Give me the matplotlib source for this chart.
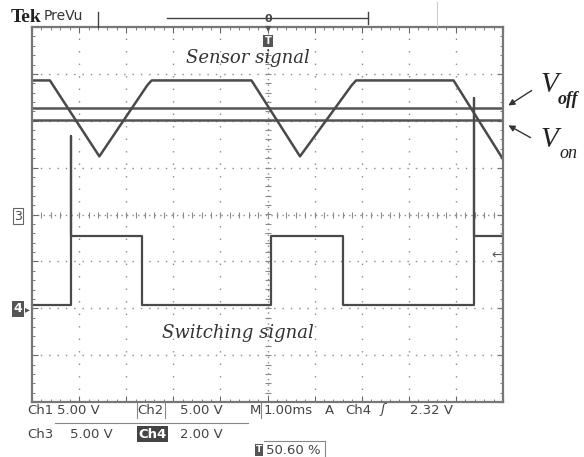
import numpy as np
import matplotlib
matplotlib.use("Agg")
import matplotlib.pyplot as plt
from matplotlib.ticker import MultipleLocator

# data, in scope divisions (x: 0..10, y: -4..4)
sensor_t = [0, 0.38, 1.43, 2.45, 2.54, 4.66, 5.69, 6.79, 6.88, 8.95, 10]
sensor_v = [2.86, 2.86, 1.24, 2.76, 2.86, 2.86, 1.24, 2.76, 2.86, 2.86, 1.18]
v_off = 2.27
v_on = 2.01
switch_t = [0, 0.82, 0.82, 0.82, 2.33, 2.33, 5.07, 5.07, 6.61, 6.61, 9.39, 9.39, 9.39, 10]
switch_v = [-1.94, -1.94, 1.67, -0.46, -0.46, -1.94, -1.94, -0.46, -0.46, -1.94, -1.94, 2.49, -0.46, -0.46]

W, H = 584, 457
fig = plt.figure(figsize=(W / 100, H / 100), dpi=100)
ax = fig.add_axes([32 / W, (H - 402) / H, 471 / W, 375 / H])


def fp(x, y):
    return x / W, 1 - y / H


trace = '#4a4a4a'
grid_c = '#8a8a8a'

ax.set_xlim(0, 10)
ax.set_ylim(-4, 4)
ax.xaxis.set_major_locator(MultipleLocator(1))
ax.yaxis.set_major_locator(MultipleLocator(1))
ax.xaxis.set_minor_locator(MultipleLocator(0.2))
ax.yaxis.set_minor_locator(MultipleLocator(0.2))
ax.tick_params(which='both', direction='in', top=True, right=True,
               labelbottom=False, labelleft=False, color='#666666')
ax.tick_params(which='major', length=4)
ax.tick_params(which='minor', length=2.5)
for s in ax.spines.values():
    s.set_color('#777777')
    s.set_linewidth(1.6)

# graticule
for k in range(1, 10):
    if k != 5:
        ax.axvline(k, color=grid_c, lw=1, ls=(0, (1, 8)))
for k in range(-3, 4):
    if k != 0:
        ax.axhline(k, color=grid_c, lw=1, ls=(0, (1, 5)))
ax.axvline(5, color=grid_c, lw=1, ls=(0, (1, 3)))
ax.axhline(0, color=grid_c, lw=1, ls=(0, (1, 3)))
ax.plot(np.arange(0.2, 10, 0.2), np.zeros(49), ls='none', marker='|',
        ms=4, color=grid_c, mew=0.8)
ax.plot(np.full(39, 5.0), np.arange(-3.8, 4, 0.2), ls='none', marker='_',
        ms=4, color=grid_c, mew=0.8)

# traces
ax.axhline(v_off, color='#555555', lw=1.8)
ax.axhline(v_on, color='#555555', lw=1.8)
ax.plot(sensor_t, sensor_v, color=trace, lw=1.8)
ax.plot(switch_t, switch_v, color=trace, lw=1.6)

serif = 'DejaVu Serif'
fig.text(*fp(248, 58), 'Sensor signal', fontsize=13, family=serif,
         style='italic', ha='center', va='center', color='#333333')
fig.text(*fp(238, 333), 'Switching signal', fontsize=13, family=serif,
         style='italic', ha='center', va='center', color='#333333')

# V_off / V_on labels
fig.text(*fp(540, 92), 'V', fontsize=21, family='Liberation Serif',
         style='italic', ha='left', va='baseline', color='#222222')
fig.text(*fp(558, 104), 'off', fontsize=13, family='Liberation Serif',
         style='italic', weight='bold', ha='left', va='baseline', color='#222222')
fig.text(*fp(540, 147), 'V', fontsize=21, family='Liberation Serif',
         style='italic', ha='left', va='baseline', color='#222222')
fig.text(*fp(559, 158), 'on', fontsize=13, family='Liberation Serif',
         style='italic', ha='left', va='baseline', color='#222222')
fig.add_artist(matplotlib.patches.FancyArrowPatch(
    fp(534, 89), fp(506, 107), transform=fig.transFigure,
    arrowstyle='-|>', mutation_scale=9, color='#333333', lw=1))
fig.add_artist(matplotlib.patches.FancyArrowPatch(
    fp(533, 139), fp(506, 124), transform=fig.transFigure,
    arrowstyle='-|>', mutation_scale=9, color='#333333', lw=1))

# header
fig.text(*fp(11, 18), 'Tek', fontsize=14, family='Liberation Serif',
         weight='bold', ha='left', va='center', color='#222222')
fig.text(*fp(44, 16), 'PreVu', fontsize=10, family='DejaVu Sans',
         ha='left', va='center', color='#333333')
fig.add_artist(plt.Line2D([98 / W, 98 / W], [1 - 12 / H, 1 - 27 / H], color='#444444', lw=1))
fig.add_artist(plt.Line2D([167 / W, 368 / W], [1 - 17.5 / H] * 2, color='#444444', lw=1))
fig.add_artist(plt.Line2D([368 / W, 368 / W], [1 - 12 / H, 1 - 24 / H], color='#444444', lw=1))
fig.add_artist(plt.Line2D([437 / W, 437 / W], [1 - 2 / H, 1 - 26 / H], color='#cccccc', lw=0.8))
fig.text(*fp(268, 19), '0', fontsize=8, family='DejaVu Sans', weight='bold',
         ha='center', va='center', color='#444444')
fig.text(*fp(268, 29), '▼', fontsize=6, ha='center', va='center', color='#555555')
fig.text(*fp(268, 41), 'T', fontsize=7, family='DejaVu Sans', weight='bold',
         ha='center', va='center', color='white',
         bbox=dict(boxstyle='square,pad=0.15', fc='#555555', ec='none'))

# channel markers
fig.text(*fp(18, 216), '3', fontsize=9, family='DejaVu Sans', ha='center', va='center',
         color='#444444', bbox=dict(boxstyle='square,pad=0.1', fc='white', ec='#666666', lw=0.8))
fig.text(*fp(18, 309), '4', fontsize=9, family='DejaVu Sans', weight='bold', ha='center',
         va='center', color='white',
         bbox=dict(boxstyle='square,pad=0.15', fc='#555555', ec='none'))
fig.text(*fp(27, 309), '▸', fontsize=7, ha='center', va='center', color='#555555')
fig.text(*fp(497, 255), '←', fontsize=9, family='DejaVu Sans', ha='center', va='center',
         color='#555555')

# status readout
sans = 'DejaVu Sans'
c = '#444444'
fs = 9.5
row1 = 410
row2 = 434
fig.text(*fp(27, row1), 'Ch1', fontsize=fs, family=sans, color=c, va='center')
fig.text(*fp(57, row1), '5.00 V', fontsize=fs, family=sans, color=c, va='center')
fig.text(*fp(137, row1), 'Ch2', fontsize=fs, family=sans, color=c, va='center')
fig.text(*fp(180, row1), '5.00 V', fontsize=fs, family=sans, color=c, va='center')
fig.text(*fp(250, row1), 'M', fontsize=fs, family=sans, color=c, va='center')
fig.text(*fp(264, row1), '1.00ms', fontsize=fs, family=sans, color=c, va='center')
fig.text(*fp(325, row1), 'A', fontsize=fs, family=sans, color=c, va='center')
fig.text(*fp(345, row1), 'Ch4', fontsize=fs, family=sans, color=c, va='center')
fig.text(*fp(380, row1), 'ʃ', fontsize=fs, family=sans, color=c, va='center', style='italic')
fig.text(*fp(410, row1), '2.32 V', fontsize=fs, family=sans, color=c, va='center')
fig.text(*fp(27, row2), 'Ch3', fontsize=fs, family=sans, color=c, va='center')
fig.text(*fp(70, row2), '5.00 V', fontsize=fs, family=sans, color=c, va='center')
fig.text(*fp(138, row2), 'Ch4', fontsize=fs, family=sans, color='white', va='center',
         weight='bold', bbox=dict(boxstyle='square,pad=0.1', fc='#444444', ec='none'))
fig.text(*fp(180, row2), '2.00 V', fontsize=fs, family=sans, color=c, va='center')
fig.text(*fp(266, 450), '50.60 %', fontsize=fs, family=sans, color=c, va='center')
fig.text(*fp(259, 450), 'T', fontsize=6.5, family=sans, color='white', weight='bold',
         ha='center', va='center', bbox=dict(boxstyle='square,pad=0.15', fc='#555555', ec='none'))

for (x0, y0, x1, y1) in [(55, 423, 248, 423), (137, 403, 137, 418), (165, 403, 165, 418),
                         (261, 403, 261, 418), (325, 441, 325, 457), (264, 441, 325, 441)]:
    fig.add_artist(plt.Line2D([x0 / W, x1 / W], [1 - y0 / H, 1 - y1 / H], color='#888888', lw=0.8))

fig.savefig('out.png', dpi=100)
